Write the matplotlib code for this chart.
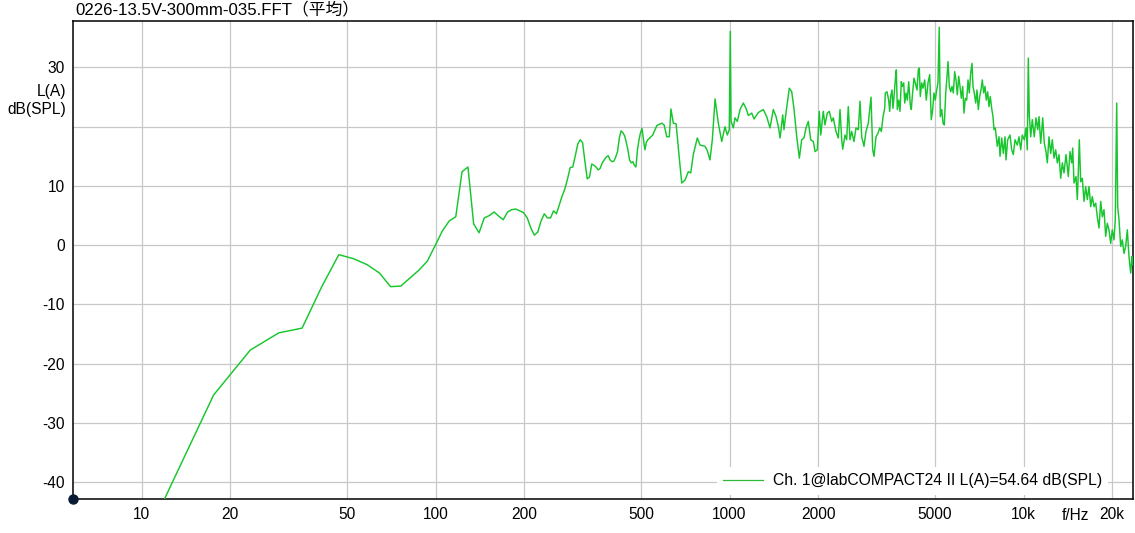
import matplotlib
matplotlib.use("Agg")
import matplotlib.pyplot as plt
from matplotlib.lines import Line2D

# ---------------- data ----------------
title_text = "0226-13.5V-300mm-035.FFT（平均）"
legend_text = "Ch. 1@labCOMPACT24 II L(A)=54.64 dB(SPL)"
x_ticks = [10, 20, 50, 100, 200, 500, 1000, 2000, 5000, 10000, 20000]
x_tick_labels = ["10", "20", "50", "100", "200", "500", "1000", "2000", "5000", "10k", "20k"]
y_ticks = [-40, -30, -20, -10, 0, 10, 30]
y_grid = [-40, -30, -20, -10, 0, 10, 20, 30]
x_limits = [5.859, 23520]
y_limits = [-42.9, 37.9]

freq_hz = [
    11.72, 17.58, 23.44, 29.30, 35.16, 41.02, 46.88, 52.73, 58.59, 64.45,
    70.31, 76.17, 82.03, 87.89, 93.75, 99.61, 105.47, 111.33, 117.19, 123.05,
    128.91, 134.77, 140.63, 146.48, 152.34, 158.20, 164.06, 169.92, 175.78, 181.64,
    187.50, 193.36, 199.22, 205.08, 210.94, 216.80, 222.66, 228.52, 234.38, 240.23,
    246.09, 251.95, 257.81, 263.67, 269.53, 275.39, 281.25, 287.11, 292.97, 298.83,
    304.69, 310.55, 316.41, 322.27, 328.13, 333.98, 339.84, 345.70, 351.56, 357.42,
    363.28, 369.14, 375.00, 380.86, 386.72, 392.58, 398.44, 404.30, 410.16, 416.02,
    421.88, 427.73, 433.59, 439.45, 445.31, 451.17, 457.03, 462.89, 468.75, 474.61,
    480.47, 486.33, 492.19, 498.05, 503.91, 509.77, 515.63, 521.48, 527.34,
    548, 566, 588, 599, 612, 624, 632, 644, 658, 679,
    688, 706, 724, 738, 753, 777, 794, 825, 840, 858,
    874, 893, 916, 941, 965, 983, 998, 1006, 1012, 1030,
    1044, 1063, 1086, 1114, 1138, 1159, 1190, 1212, 1253, 1303,
    1338, 1373, 1409, 1440, 1466, 1486, 1517, 1532, 1556, 1597,
    1628, 1658, 1693, 1728, 1760, 1792, 1820, 1854, 1889, 1928,
    1954, 1989, 2020, 2043, 2084, 2112, 2151, 2185, 2226, 2254,
    2302, 2344, 2376, 2408, 2427, 2471, 2503, 2535, 2569, 2603,
    2651, 2693, 2742, 2779, 2816, 2867, 2912, 2965, 3029, 3069,
    3101, 3150,
    3200, 3243, 3284, 3328, 3372, 3388, 3433, 3479, 3506, 3534,
    3570, 3598, 3627, 3664, 3693, 3722, 3762, 3801, 3840, 3870,
    3913, 3944, 3984, 4025, 4069, 4120, 4153, 4185, 4241, 4285,
    4342, 4387, 4421, 4456, 4505, 4551, 4612, 4670, 4733, 4796,
    4856, 4910, 4960, 5012, 5067, 5118, 5168, 5212, 5270, 5324,
    5378, 5438, 5493, 5537, 5593, 5655, 5712, 5771, 5834, 5894,
    5954, 6020, 6082, 6144, 6212, 6275, 6339, 6409, 6475, 6541,
    6613, 6681, 6733, 6802, 6877, 6947, 7018, 7095, 7168, 7241,
    7321, 7396, 7472, 7554, 7631, 7709, 7794, 7874, 7936, 8017,
    8145, 8255, 8320,
    8432, 8537, 8652, 8720, 8837, 8997, 9118, 9233, 9357, 9526,
    9654, 9784, 9906, 10063, 10197, 10301, 10382, 10464, 10580, 10713,
    10882, 11028, 11177, 11291, 11443, 11624, 11770, 11900, 12050, 12210,
    12375, 12530, 12697, 12867, 13032, 13204, 13382, 13552, 13734, 13951,
    14204, 14395, 14585, 14700, 14853, 15087, 15241, 15361, 15481, 15653,
    15849, 16062, 16277, 16482, 16703, 16928, 17140, 17370, 17604, 17824,
    18064, 18307, 18536, 18785, 19037, 19275, 19534, 19797, 20045, 20315,
    20521, 20750, 20913, 21126, 21410, 21682, 21969, 22264, 22547, 22845,
    23152, 23388, 23530,
]

level_db = [
    -43.8, -25.3, -17.7, -14.8, -14.0, -7.0, -1.6, -2.3, -3.3, -4.7,
    -7.0, -6.9, -5.5, -4.2, -2.7, -0.1, 2.4, 4.1, 4.8, 12.4,
    13.2, 3.6, 2.1, 4.6, 5.0, 5.6, 4.9, 4.3, 5.6, 6.0,
    6.1, 5.8, 5.5, 4.6, 2.9, 1.7, 2.2, 4.1, 5.3, 4.6,
    4.6, 5.8, 5.3, 6.8, 8.3, 9.5, 11.2, 13.1, 13.2, 15.1,
    17.1, 17.8, 17.3, 14.1, 11.2, 11.5, 13.7, 13.5, 13.2, 12.7,
    13.0, 13.9, 14.4, 14.9, 15.1, 14.4, 14.1, 14.2, 14.9, 15.8,
    18.1, 19.3, 19.0, 18.5, 17.4, 16.1, 14.4, 13.9, 14.1, 13.5,
    13.2, 16.1, 17.8, 19.0, 19.7, 17.8, 16.1, 17.4, 17.8,
    18.6, 20.2, 20.6, 20.3, 18.3, 18.3, 23.0, 20.6, 20.5, 13.3,
    10.5, 11.0, 12.4, 12.2, 15.3, 18.1, 16.9, 16.7, 16.0, 14.4,
    17.8, 24.7, 20.6, 17.5, 20.0, 18.6, 19.5, 36.1, 21.0, 19.8,
    21.5, 20.9, 22.9, 24.0, 23.1, 21.9, 22.3, 21.3, 22.4, 22.9,
    21.7, 19.8, 22.9, 21.7, 20.0, 18.1, 22.0, 19.5, 22.3, 26.5,
    25.9, 22.9, 18.3, 14.7, 17.8, 18.1, 19.8, 20.9, 17.8, 17.5,
    15.8, 16.1, 22.6, 18.6, 22.6, 20.3, 22.3, 22.6, 20.9, 21.5,
    19.2, 18.1, 22.9, 17.8, 16.2, 18.6, 17.8, 23.4, 17.8, 19.2,
    17.5, 19.8, 19.5, 24.3, 18.3, 16.7, 19.2, 20.6, 25.0, 16.1,
    15.0, 18.3,
    18.9, 19.8, 19.2, 21.7, 23.1, 25.7, 25.9, 24.5, 22.6, 25.1,
    26.2, 23.1, 25.1, 27.9, 29.6, 22.9, 24.5, 22.6, 27.6, 26.8,
    27.4, 24.0, 25.7, 24.5, 27.6, 23.7, 22.9, 25.1, 28.2, 27.4,
    26.2, 29.6, 29.9, 25.1, 27.4, 26.5, 27.9, 24.5, 27.4, 28.8,
    21.2, 22.9, 25.7, 24.5, 26.2, 27.4, 36.8, 21.7, 22.9, 20.6,
    20.3, 25.7, 28.5, 31.0, 26.8, 25.9, 26.8, 25.7, 29.3, 27.9,
    25.4, 28.5, 26.8, 24.8, 26.8, 22.3, 24.8, 24.5, 27.9, 25.7,
    29.1, 30.7, 26.8, 25.7, 24.0, 26.2, 22.9, 25.1, 26.2, 27.9,
    25.7, 26.8, 24.5, 25.9, 23.4, 25.1, 23.1, 21.7, 19.5, 19.8,
    16.7, 18.3, 15.0,
    18.1, 15.5, 18.3, 14.4, 17.8, 18.6, 16.1, 15.3, 17.8, 16.9,
    18.3, 16.1, 18.6, 17.8, 19.8, 16.1, 31.6, 22.0, 18.3, 21.2,
    18.3, 21.5, 19.5, 21.7, 17.2, 21.5, 17.2, 16.1, 13.9, 18.3,
    15.5, 17.8, 14.7, 16.1, 13.9, 15.3, 11.3, 13.9, 12.2, 15.3,
    11.6, 15.8, 13.9, 16.4, 10.5, 11.6, 7.7, 12.2, 17.8, 10.7,
    11.3, 7.4, 9.9, 7.7, 9.9, 6.5, 8.2, 6.5, 7.1, 4.8,
    2.9, 7.4, 4.8, 6.0, 1.5, 3.7, 2.6, 0.3, 2.6, 0.9,
    4.3, 24.0, 6.5, 4.3, -0.2, 0.9, -1.4, -0.2, 2.6, -1.9,
    -4.7, -1.9, -3.3,
]

# ---------------- style ----------------
FONT = ["Liberation Sans", "Noto Sans CJK JP", "DejaVu Sans"]
plt.rcParams["font.family"] = FONT
FS = 11.2
FS_LEG = 11.35
FS_TITLE = 12.1
GREEN = "#17c62d"
GRID = "#c8c8c8"

W, H = 1135, 533
fig = plt.figure(figsize=(W / 100, H / 100), dpi=100)
L, R, T, B = 73.3, 1132.7, 20.7, 499.3
ax = fig.add_axes([L / W, 1 - B / H, (R - L) / W, (B - T) / H])

ax.set_xscale("log")
ax.set_xlim(*x_limits)
ax.set_ylim(*y_limits)

for v in x_ticks:
    ax.axvline(v, color=GRID, lw=0.9, zorder=0)
for v in y_grid:
    ax.axhline(v, color=GRID, lw=0.9, zorder=0)

ax.plot(freq_hz, level_db, color=GREEN, lw=1.05, zorder=3)

ax.set_xticks(x_ticks)
ax.set_xticklabels(x_tick_labels)
ax.xaxis.set_minor_locator(matplotlib.ticker.NullLocator())
ax.set_yticks(y_ticks)
ax.set_yticklabels([str(v) for v in y_ticks])
ax.tick_params(axis="both", length=0, labelsize=FS, colors="black")
ax.tick_params(axis="x", pad=5.5)
ax.tick_params(axis="y", pad=6)

for s in ax.spines.values():
    s.set_color("black")
    s.set_linewidth(1.1)

# axis labels
ax.text(-7 / (R - L), (B - 92) / (B - T), "L(A)", transform=ax.transAxes,
        ha="right", va="center", fontsize=FS)
ax.text(-7 / (R - L), (B - 110) / (B - T), "dB(SPL)", transform=ax.transAxes,
        ha="right", va="center", fontsize=FS)
ax.text((1076 - L) / (R - L), -(515 - B) / (B - T), "f/Hz", transform=ax.transAxes,
        ha="center", va="center", fontsize=FS)

# origin dot
ax.plot([0], [0], transform=ax.transAxes, marker="o", ms=6.5, color="#0b1a33",
        clip_on=False, zorder=5)

# title
fig.text(75 / W, 1 - 9.5 / H, title_text, ha="left", va="center",
         fontsize=FS_TITLE, family=FONT)

# legend
handle = Line2D([], [], color="#2fb83a", lw=0.9)
leg = ax.legend([handle], [legend_text], loc="center left",
                bbox_to_anchor=((716.8 - L) / (R - L), (B - 481) / (B - T)),
                borderaxespad=0, borderpad=0.4, handlelength=2.5,
                handletextpad=0.64, fontsize=FS_LEG, frameon=True, fancybox=False,
                facecolor="white", edgecolor="none", framealpha=1)
leg.set_zorder(6)

fig.savefig("out.png", dpi=100)
